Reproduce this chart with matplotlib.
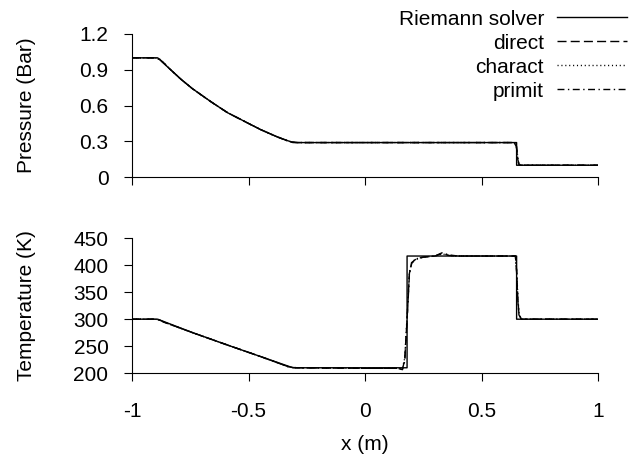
import matplotlib.pyplot as plt
import numpy as np

plt.rcParams['font.family'] = ['Liberation Sans', 'DejaVu Sans']
plt.rcParams['font.size'] = 15

# exact solution (Riemann solver)
px_ex = [-1.0, -0.89, -0.84, -0.79, -0.74, -0.66, -0.59, -0.52, -0.45, -0.38, -0.31, 0.65, 0.65, 1.0]
p_ex = [1.0, 1.0, 0.91, 0.82, 0.74, 0.63, 0.54, 0.47, 0.40, 0.34, 0.29, 0.29, 0.10, 0.10]
Tx_ex = [-1.0, -0.89, -0.74, -0.59, -0.45, -0.31, 0.18, 0.18, 0.65, 0.65, 1.0]
T_ex = [300, 300, 275, 252, 231, 210, 210, 417, 417, 300, 300]

# numerical schemes
px_num = [-1.0, -0.9, -0.88, -0.86, -0.84, -0.79, -0.74, -0.66, -0.59, -0.52, -0.45, -0.38,
          -0.33, -0.31, -0.29, 0.0, 0.3, 0.64, 0.65, 0.655, 0.66, 0.67, 1.0]
p_direct = [1.0, 1.0, 0.985, 0.95, 0.91, 0.82, 0.74, 0.63, 0.54, 0.47, 0.40, 0.34,
            0.302, 0.293, 0.29, 0.29, 0.29, 0.29, 0.25, 0.15, 0.11, 0.10, 0.10]
p_charact = [1.0, 1.0, 0.987, 0.952, 0.91, 0.82, 0.74, 0.63, 0.54, 0.47, 0.40, 0.34,
             0.303, 0.294, 0.29, 0.29, 0.29, 0.29, 0.26, 0.16, 0.11, 0.10, 0.10]
p_primit = [1.0, 1.0, 0.984, 0.948, 0.91, 0.82, 0.74, 0.63, 0.54, 0.47, 0.40, 0.34,
            0.301, 0.293, 0.29, 0.29, 0.29, 0.29, 0.24, 0.14, 0.105, 0.10, 0.10]

Tx_num = [-1.0, -0.9, -0.88, -0.86, -0.74, -0.59, -0.45, -0.33, -0.31, -0.29, 0.0, 0.14, 0.16,
          0.17, 0.18, 0.19, 0.2, 0.22, 0.25, 0.3, 0.33, 0.36, 0.4, 0.6, 0.645, 0.65, 0.655,
          0.66, 0.67, 1.0]
T_direct = [300, 300, 298, 294, 275, 252, 231, 212, 210.5, 210, 209, 209, 207, 225, 300, 385,
            405, 412, 415, 417, 422, 418, 417, 417, 417, 390, 340, 310, 300, 300]
T_charact = [300, 300, 298, 294, 275, 252, 231, 212, 210.5, 210, 209, 209, 207.5, 228, 305, 387,
             406, 412, 415, 417, 421, 418, 417, 417, 417, 392, 345, 312, 300, 300]
T_primit = [300, 300, 298, 294, 275, 252, 231, 212, 210.5, 210, 209, 209, 206.5, 222, 296, 383,
            404, 411, 415, 417, 423, 419, 417, 417, 417, 388, 336, 308, 300, 300]

fig = plt.figure(figsize=(6.35, 4.59), dpi=100)
ax1 = fig.add_axes([0.208, 0.614, 0.734, 0.312])
ax2 = fig.add_axes([0.208, 0.187, 0.734, 0.294])

styles = dict(color='black', lw=1.0)
for ax, xe, ye, xn, d, c, p in [(ax1, px_ex, p_ex, px_num, p_direct, p_charact, p_primit),
                                (ax2, Tx_ex, T_ex, Tx_num, T_direct, T_charact, T_primit)]:
    ax.plot(xe, ye, '-', label='Riemann solver', **styles)
    ax.plot(xn, d, linestyle=(0, (6.5, 3)), label='direct', **styles)
    ax.plot(xn, c, linestyle=(0, (0.8, 2)), label='charact', **styles)
    ax.plot(xn, p, linestyle=(0, (5, 2.5, 1, 2.5)), label='primit', **styles)
    for s in ['top', 'right']:
        ax.spines[s].set_visible(False)
    ax.set_xlim(-1, 1)
    ax.set_xticks([-1, -0.5, 0, 0.5, 1])
    ax.tick_params(direction='out', length=6)
    ax.tick_params(axis='x', pad=15)
    ax.tick_params(axis='y', pad=11)
    ax.yaxis.set_label_coords(-0.206, 0.5)

ax1.set_ylim(0, 1.2)
ax1.set_yticks([0, 0.3, 0.6, 0.9, 1.2])
ax1.set_yticklabels(['0', '0.3', '0.6', '0.9', '1.2'])
ax1.set_xticklabels([])
ax1.set_ylabel('Pressure (Bar)')

ax2.set_ylim(200, 450)
ax2.set_yticks([200, 250, 300, 350, 400, 450])
ax2.set_xticklabels(['-1', '-0.5', '0', '0.5', '1'])
ax2.set_ylabel('Temperature (K)')
ax2.set_xlabel('x (m)')
ax2.xaxis.set_label_coords(0.5, -0.46)

h, l = ax1.get_legend_handles_labels()
fig.legend(h, l, loc='upper right', bbox_to_anchor=(0.988, 0.979), frameon=False,
           markerfirst=False, handlelength=3.4, handletextpad=0.6, labelspacing=0.24,
           borderpad=0, borderaxespad=0)

fig.savefig('out.png', dpi=100)
